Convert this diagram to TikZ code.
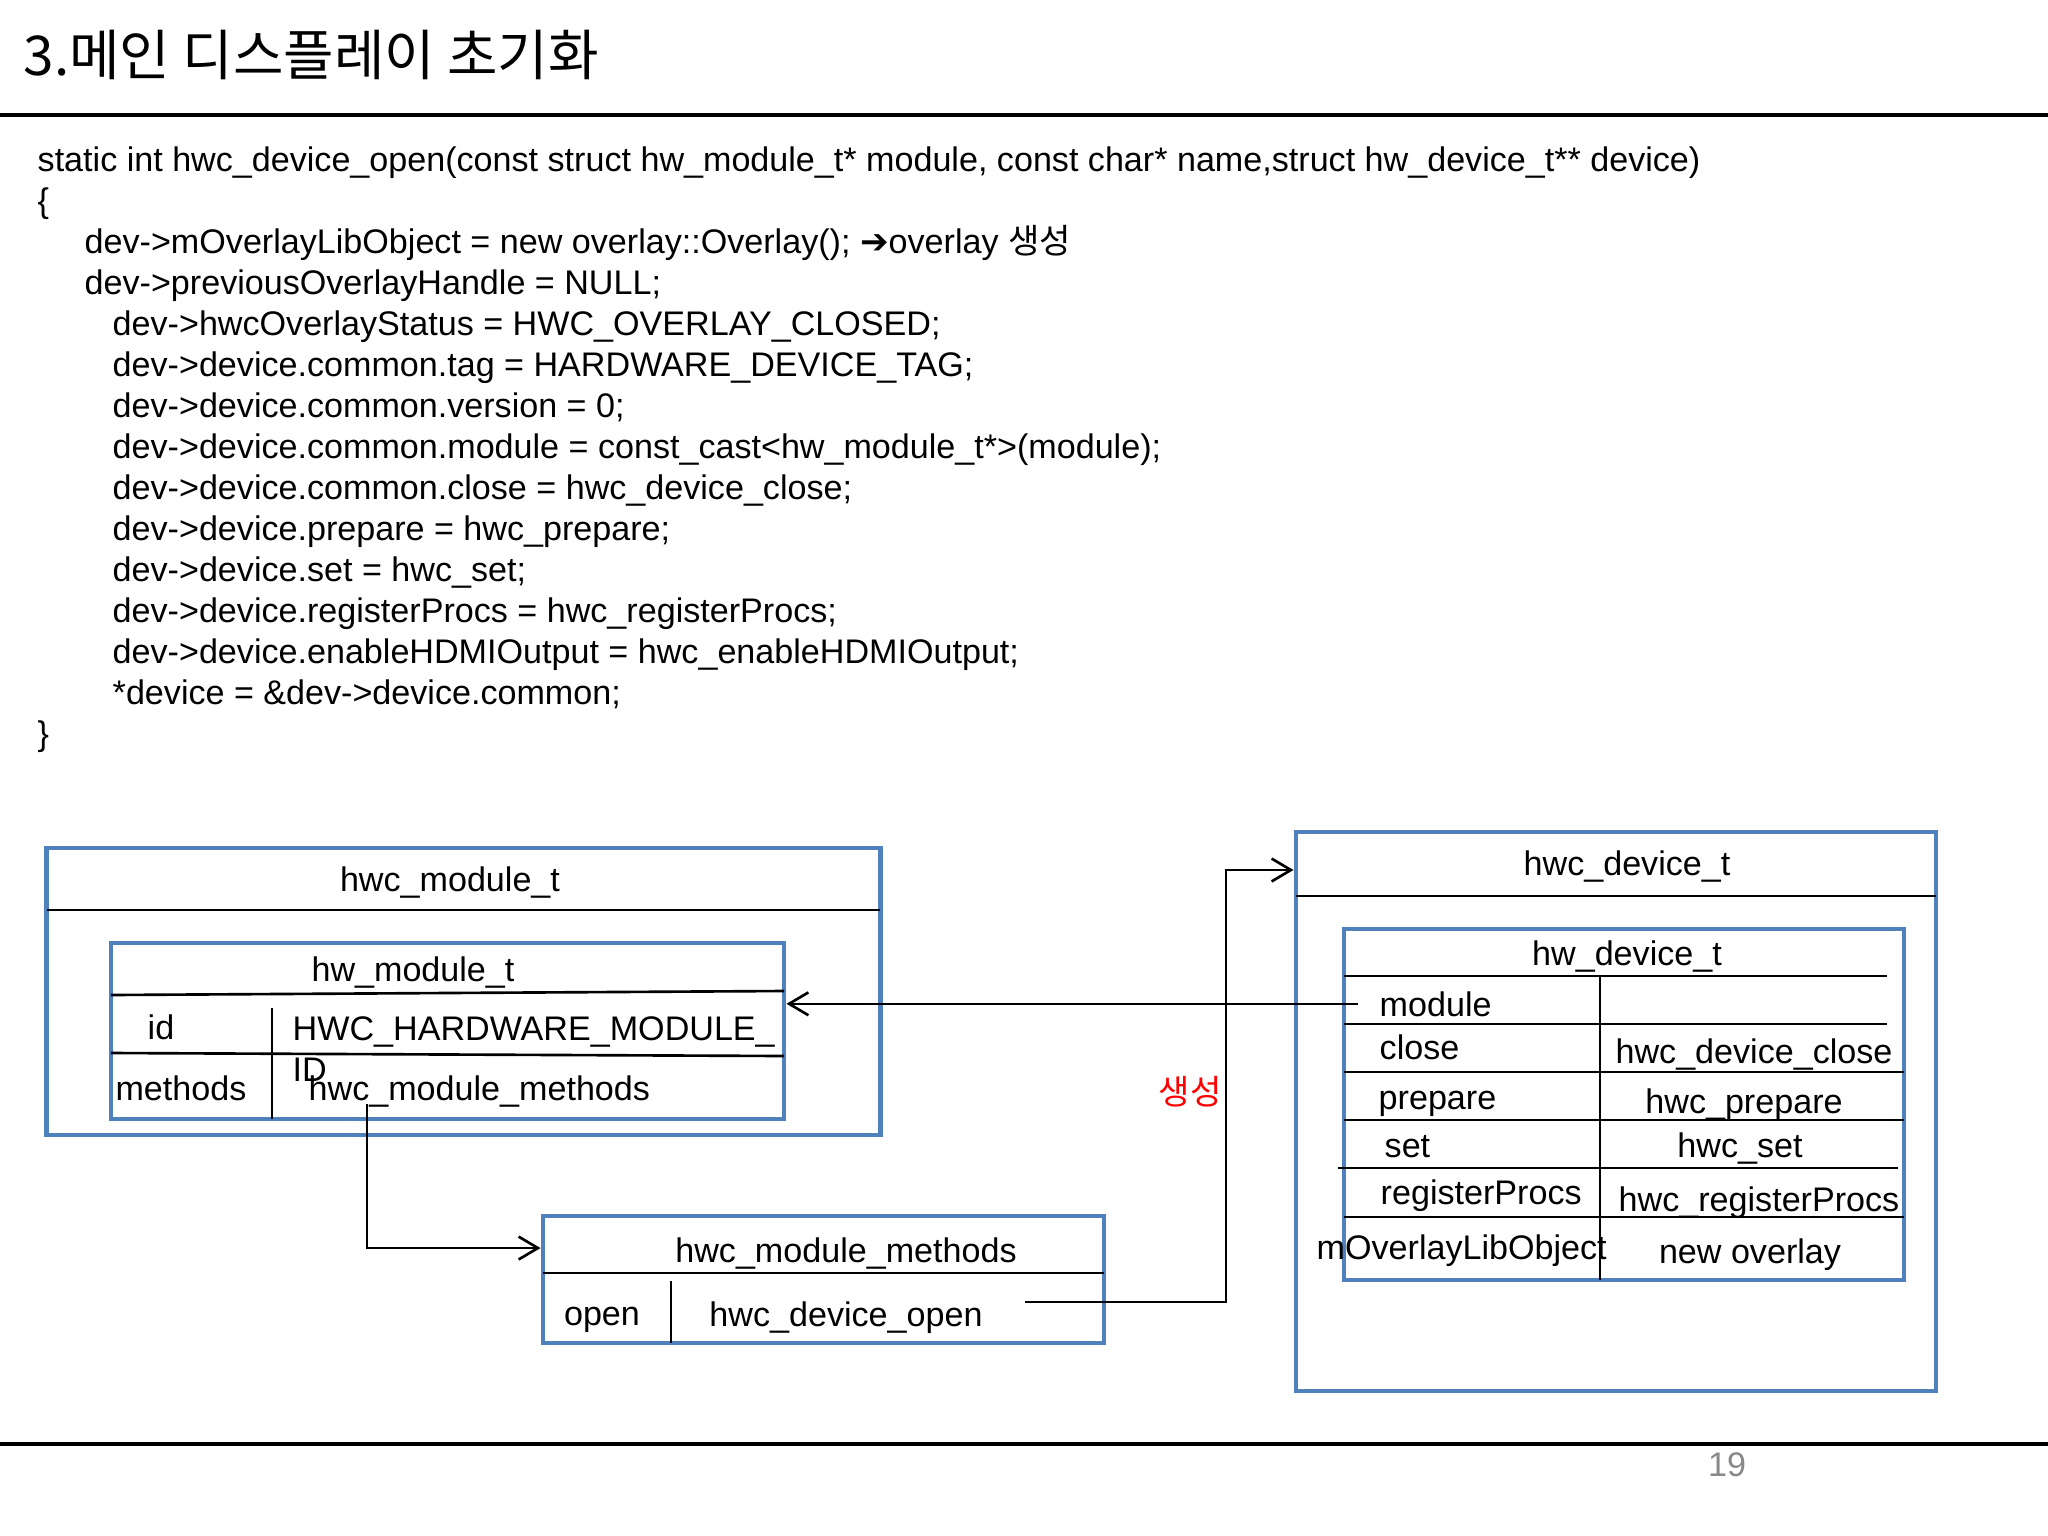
\documentclass[tikz,border=0pt]{standalone}
\usepackage{fontspec}
\setmainfont{Liberation Sans}
\newfontfamily\kofont{Noto Sans CJK KR}
\newfontfamily\symfont{DejaVu Sans}
\usetikzlibrary{arrows.meta, positioning, calc}
\definecolor{boxblue}{RGB}{79,129,189}
\definecolor{pagegray}{RGB}{137,137,137}
\definecolor{genred}{RGB}{255,0,0}
\newcommand{\diagfont}{\fontsize{9.7}{11.66}\selectfont}

\tikzset{
  bluebox/.style={draw=boxblue, line width=1.3pt, rectangle, inner sep=0pt},
  rowline/.style={black, line width=0.75pt},
  conn/.style={black, line width=0.75pt, -{Straight Barb[length=5.5pt, width=6.5pt]}},
  lbl/.style={font=\diagfont, inner sep=0pt},
}

\begin{document}
\begin{tikzpicture}[x=0.01cm, y=-0.01cm]
  \useasboundingbox (0,0) rectangle (2048,1536);
  \fill[white] (0,0) rectangle (2048,1536);

  % Title and page rules
  \node[font=\kofont\fontsize{15.6}{19}\selectfont, anchor=west, inner sep=0pt] (title) at (23,55) {3.메인 디스플레이 초기화};
  \draw[line width=1pt] (0,115) -- (2048,115);
  \draw[line width=1pt] (0,1444) -- (2048,1444);
  \node[lbl, text=pagegray] (pagenum) at (1727,1465) {19};

  % Source code
  \node[lbl, anchor=north west, align=left] (code) at (37,146) {%
    static int hwc\_device\_open(const struct hw\_module\_t* module, const char* name,struct hw\_device\_t** device)\\
    \{\\
    \hspace*{0.47cm}dev->mOverlayLibObject = new overlay::Overlay(); {\symfont\bfseries ➔}overlay {\kofont 생성}\\
    \hspace*{0.47cm}dev->previousOverlayHandle = NULL;\\
    \hspace*{0.75cm}dev->hwcOverlayStatus = HWC\_OVERLAY\_CLOSED;\\
    \hspace*{0.75cm}dev->device.common.tag = HARDWARE\_DEVICE\_TAG;\\
    \hspace*{0.75cm}dev->device.common.version = 0;\\
    \hspace*{0.75cm}dev->device.common.module = const\_cast<hw\_module\_t*>(module);\\
    \hspace*{0.75cm}dev->device.common.close = hwc\_device\_close;\\
    \hspace*{0.75cm}dev->device.prepare = hwc\_prepare;\\
    \hspace*{0.75cm}dev->device.set = hwc\_set;\\
    \hspace*{0.75cm}dev->device.registerProcs = hwc\_registerProcs;\\
    \hspace*{0.75cm}dev->device.enableHDMIOutput = hwc\_enableHDMIOutput;\\
    \hspace*{0.75cm}*device = \&dev->device.common;\\
    \}};

  % hwc_module_t
  \node[bluebox, minimum width=8.33cm, minimum height=2.87cm] (modbox) at (463.5,991.5) {};
  \draw[rowline] (47,910) -- (880,910);
  \node[lbl, anchor=base] (modhead) at (450,891) {hwc\_module\_t};

  % hw_module_t
  \node[bluebox, minimum width=6.73cm, minimum height=1.76cm] (hwmod) at (447.5,1031) {};
  \node[lbl, anchor=base] (hwmodhead) at (413,981) {hw\_module\_t};
  \draw[rowline] (111,995) -- (784,991);
  \draw[rowline] (111,1053) -- (784,1056);
  \draw[rowline] (272,1008) -- (272,1119);
  \node[lbl, anchor=base] (modid) at (161,1039) {id};
  \node[lbl, anchor=base west, align=left] (modidval) at (292,1040) {HWC\_HARDWARE\_MODULE\_};
  \node[lbl, anchor=base west] (modidwrap) at (292,1081) {ID};
  \node[lbl, anchor=base] (modmethods) at (181,1100) {methods};
  \node[lbl, anchor=base west] (modmethval) at (308,1100) {hwc\_module\_methods};

  % hwc_module_methods
  \node[bluebox, minimum width=5.61cm, minimum height=1.27cm] (methbox) at (823.5,1279.5) {};
  \node[lbl, anchor=base] (methhead) at (846,1262) {hwc\_module\_methods};
  \draw[rowline] (543,1273) -- (1104,1273);
  \draw[rowline] (671,1281) -- (671,1343);
  \node[lbl, anchor=base] (methopen) at (602,1325) {open};
  \node[lbl, anchor=base] (devopen) at (846,1326) {hwc\_device\_open};

  % hwc_device_t
  \node[bluebox, minimum width=6.40cm, minimum height=5.59cm] (devbox) at (1616,1111.5) {};
  \draw[rowline] (1296,896) -- (1936,896);
  \node[lbl, anchor=base] (devhead) at (1627,875) {hwc\_device\_t};

  % hw_device_t
  \node[bluebox, minimum width=5.60cm, minimum height=3.51cm] (hwdev) at (1624,1104.5) {};
  \node[lbl, anchor=base] (hwdevhead) at (1627,965) {hw\_device\_t};
  \draw[rowline] (1344,976) -- (1887,976);
  \draw[rowline] (1344,1024) -- (1887,1024);
  \draw[rowline] (1344,1072) -- (1904,1072);
  \draw[rowline] (1344,1120) -- (1904,1120);
  \draw[rowline] (1338,1168) -- (1898,1168);
  \draw[rowline] (1344,1217) -- (1904,1217);
  \draw[rowline] (1600,976) -- (1600,1280);
  \node[lbl, anchor=base west] (devmodule) at (1379,1016) {module};
  \node[lbl, anchor=base west] (devclose) at (1379,1059) {close};
  \node[lbl, anchor=base west] (devprepare) at (1378,1109) {prepare};
  \node[lbl, anchor=base west] (devset) at (1384,1157) {set};
  \node[lbl, anchor=base west] (devregister) at (1380,1204) {registerProcs};
  \node[lbl, anchor=base west] (devoverlay) at (1316,1259) {mOverlayLibObject};
  \node[lbl, anchor=base] (closeval) at (1754,1063) {hwc\_device\_close};
  \node[lbl, anchor=base] (prepareval) at (1744,1113) {hwc\_prepare};
  \node[lbl, anchor=base] (setval) at (1740,1157) {hwc\_set};
  \node[lbl, anchor=base] (registerval) at (1759,1211) {hwc\_registerProcs};
  \node[lbl, anchor=base] (overlayval) at (1750,1263) {new overlay};

  % Connectors
  \coordinate (methtap) at (367,1104);
  \coordinate (openout) at (1025,1302);
  \coordinate (riser) at (1226,870);
  \draw[conn] ([xshift=-0.21cm]devmodule.west) -- (devmodule.west -| hwmod.east);
  \draw[conn] (methtap) |- ([yshift=0.05cm]methhead.west -| methbox.west);
  \draw[conn] (openout) -| (riser) -- (riser -| devbox.west);
  \node[lbl, font=\kofont\diagfont, text=genred] (genlabel) at (1190,1092) {생성};
\end{tikzpicture}
\end{document}
